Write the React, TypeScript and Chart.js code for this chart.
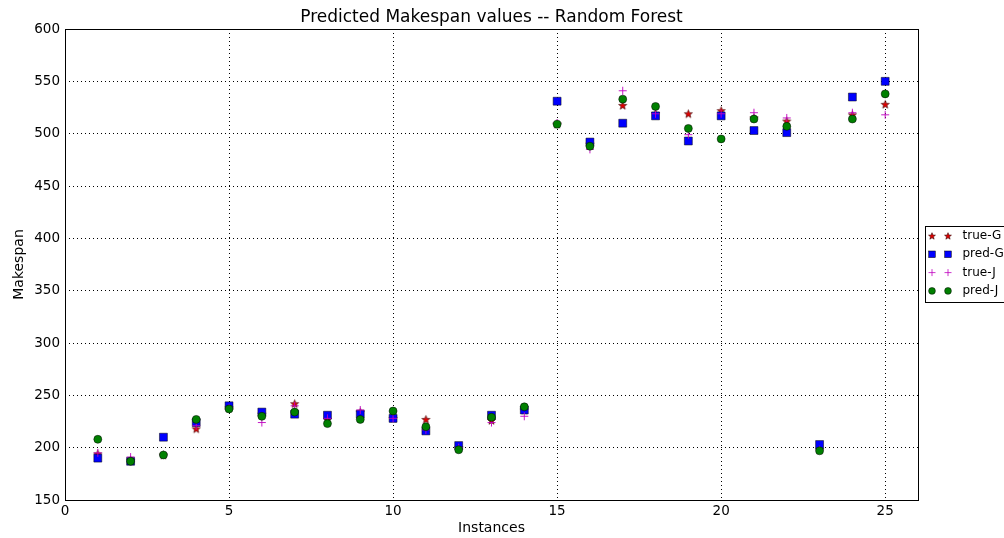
import React, { useEffect, useRef } from "react";
import { Chart, registerables } from "chart.js";

Chart.register(...registerables);

const instances = [1, 2, 3, 4, 5, 6, 7, 8, 9, 10, 11, 12, 13, 14, 15, 16, 17, 18, 19, 20, 21, 22, 23, 24, 25];
const trueG = [194, 188, 193, 218, 238, 232, 242, 227, 234, 228, 227, 200, 226, 236, 509, 490, 527, 519, 519, 522, 515, 512, 198, 518, 528];
const predG = [190, 187, 210, 224, 240, 234, 232, 231, 232, 228, 216, 202, 231, 236, 531, 492, 510, 517, 493, 517, 503, 501, 203, 535, 550];
const trueJ = [195, 191, 193, 221, 238, 224, 240, 228, 236, 228, 217, 200, 224, 230, 510, 485, 541, 519, 499, 519, 520, 515, 198, 520, 518];
const predJ = [208, 187, 193, 227, 237, 230, 234, 223, 227, 235, 220, 198, 229, 239, 509, 488, 533, 526, 505, 495, 514, 507, 197, 514, 538];

const xTicks = [0, 5, 10, 15, 20, 25];
const yTicks = [150, 200, 250, 300, 350, 400, 450, 500, 550, 600];
const seriesLabels = ["true-G", "pred-G", "true-J", "pred-J"];
const titleText = "Predicted Makespan values -- Random Forest";

const FONT = "'DejaVu Sans', sans-serif";
const MAGENTA = "#bf00bf";
const GREEN = "#008000";
const BLUE = "#0000ff";

function makeStar(R: number): HTMLCanvasElement {
  const size = Math.ceil(R * 2 + 2);
  const c = document.createElement("canvas");
  c.width = size;
  c.height = size;
  const g = c.getContext("2d")!;
  const cx = size / 2, cy = size / 2 + R * 0.08, r = R * 0.42;
  g.beginPath();
  for (let i = 0; i < 10; i++) {
    const rad = i % 2 === 0 ? R : r;
    const a = -Math.PI / 2 + (i * Math.PI) / 5;
    const px = cx + rad * Math.cos(a);
    const py = cy + rad * Math.sin(a);
    if (i === 0) g.moveTo(px, py);
    else g.lineTo(px, py);
  }
  g.closePath();
  g.fillStyle = "#e00000";
  g.fill();
  g.lineWidth = 0.6;
  g.strokeStyle = "#3a0000";
  g.stroke();
  return c;
}

function drawMarker(ctx: CanvasRenderingContext2D, kind: number, x: number, y: number, star: HTMLCanvasElement) {
  ctx.save();
  if (kind === 0) {
    ctx.drawImage(star, x - star.width / 2, y - star.height / 2);
  } else if (kind === 1) {
    ctx.fillStyle = BLUE;
    ctx.strokeStyle = "#000";
    ctx.lineWidth = 0.5;
    ctx.fillRect(x - 3.3, y - 3.3, 6.6, 6.6);
    ctx.strokeRect(x - 3.3, y - 3.3, 6.6, 6.6);
  } else if (kind === 2) {
    ctx.strokeStyle = MAGENTA;
    ctx.lineWidth = 0.8;
    ctx.beginPath();
    ctx.moveTo(x - 3.5, y);
    ctx.lineTo(x + 3.5, y);
    ctx.moveTo(x, y - 3.5);
    ctx.lineTo(x, y + 3.5);
    ctx.stroke();
  } else {
    ctx.fillStyle = GREEN;
    ctx.strokeStyle = "#000";
    ctx.lineWidth = 0.5;
    ctx.beginPath();
    ctx.arc(x, y, 3.4, 0, Math.PI * 2);
    ctx.fill();
    ctx.stroke();
  }
  ctx.restore();
}

export default function App() {
  const ref = useRef<HTMLCanvasElement>(null);

  useEffect(() => {
    document.body.style.margin = "0";
    const canvas = ref.current!;
    const star = makeStar(4.3);
    const legendStar = makeStar(3.6);

    const framePlugin = {
      id: "framePlugin",
      afterDraw(chart: any) {
        const ctx = chart.ctx as CanvasRenderingContext2D;
        const a = chart.chartArea;
        ctx.save();
        ctx.strokeStyle = "#000";
        ctx.lineWidth = 1;
        ctx.strokeRect(Math.round(a.left) + 0.5, Math.round(a.top) + 0.5, Math.round(a.right - a.left), Math.round(a.bottom - a.top));
        // title
        ctx.fillStyle = "#000";
        ctx.font = `17px ${FONT}`;
        ctx.textAlign = "center";
        ctx.textBaseline = "alphabetic";
        ctx.fillText(titleText, (a.left + a.right) / 2, a.top - 7);
        // legend
        const lx = a.right + 7;
        const ly = 226;
        const lw = 100;
        const lh = 76;
        ctx.fillStyle = "#fff";
        ctx.fillRect(lx, ly, lw, lh);
        ctx.strokeStyle = "#000";
        ctx.strokeRect(lx + 0.5, ly + 0.5, lw, lh);
        ctx.font = `12px ${FONT}`;
        ctx.textAlign = "left";
        ctx.textBaseline = "middle";
        seriesLabels.forEach((lab, i) => {
          const yy = ly + 10 + i * 18.3;
          drawMarker(ctx, i, lx + 7, yy, legendStar);
          drawMarker(ctx, i, lx + 23, yy, legendStar);
          ctx.fillStyle = "#000";
          ctx.fillText(lab, lx + 37.5, yy);
        });
        ctx.restore();
      },
    };

    const mk = (arr: number[]) => instances.map((x, i) => ({ x, y: arr[i] }));

    const chart = new Chart(canvas, {
      type: "scatter",
      data: {
        datasets: [
          {
            label: seriesLabels[0],
            data: mk(trueG),
            pointStyle: star,
            pointRadius: 5,
            order: 4,
          },
          {
            label: seriesLabels[1],
            data: mk(predG),
            pointStyle: "rect",
            pointRadius: 5.6,
            backgroundColor: BLUE,
            borderColor: "#000",
            borderWidth: 0.5,
            order: 3,
          },
          {
            label: seriesLabels[2],
            data: mk(trueJ),
            pointStyle: "cross",
            pointRadius: 4,
            backgroundColor: MAGENTA,
            borderColor: MAGENTA,
            borderWidth: 0.9,
            order: 2,
          },
          {
            label: seriesLabels[3],
            data: mk(predJ),
            pointStyle: "circle",
            pointRadius: 4,
            backgroundColor: GREEN,
            borderColor: "#000",
            borderWidth: 0.5,
            order: 1,
          },
        ],
      },
      options: {
        responsive: false,
        animation: false,
        events: [],
        layout: { padding: { top: 29, right: 86, left: 0, bottom: 0 } },
        plugins: {
          legend: { display: false },
          title: { display: false },
          tooltip: { enabled: false },
        },
        scales: {
          x: {
            type: "linear",
            min: 0,
            max: 26,
            afterBuildTicks: (s: any) => {
              s.ticks = xTicks.map((v) => ({ value: v }));
            },
            afterFit: (s: any) => {
              s.height = 38;
            },
            grid: { color: "#000", lineWidth: 1, drawTicks: false },
            border: { display: false, dash: [1, 3] },
            ticks: { color: "#000", padding: 3, maxRotation: 0, font: { family: FONT, size: 13.5 } },
            title: {
              display: true,
              text: "Instances",
              color: "#000",
              font: { family: FONT, size: 14 },
              padding: { top: 0, bottom: 1 },
            },
          },
          y: {
            type: "linear",
            min: 150,
            max: 600,
            afterBuildTicks: (s: any) => {
              s.ticks = yTicks.map((v) => ({ value: v }));
            },
            afterFit: (s: any) => {
              s.width = 65;
            },
            grid: { color: "#000", lineWidth: 1, drawTicks: false },
            border: { display: false, dash: [1, 3] },
            ticks: { color: "#000", padding: 5, font: { family: FONT, size: 13.5 } },
            title: {
              display: true,
              text: "Makespan",
              color: "#000",
              font: { family: FONT, size: 14 },
              padding: { top: 11, bottom: 0 },
            },
          },
        },
      },
      plugins: [framePlugin],
    } as any);

    return () => chart.destroy();
  }, []);

  return (
    <div style={{ width: 1004, height: 538 }}>
      <canvas ref={ref} width={1004} height={538} style={{ display: "block" }} />
    </div>
  );
}
